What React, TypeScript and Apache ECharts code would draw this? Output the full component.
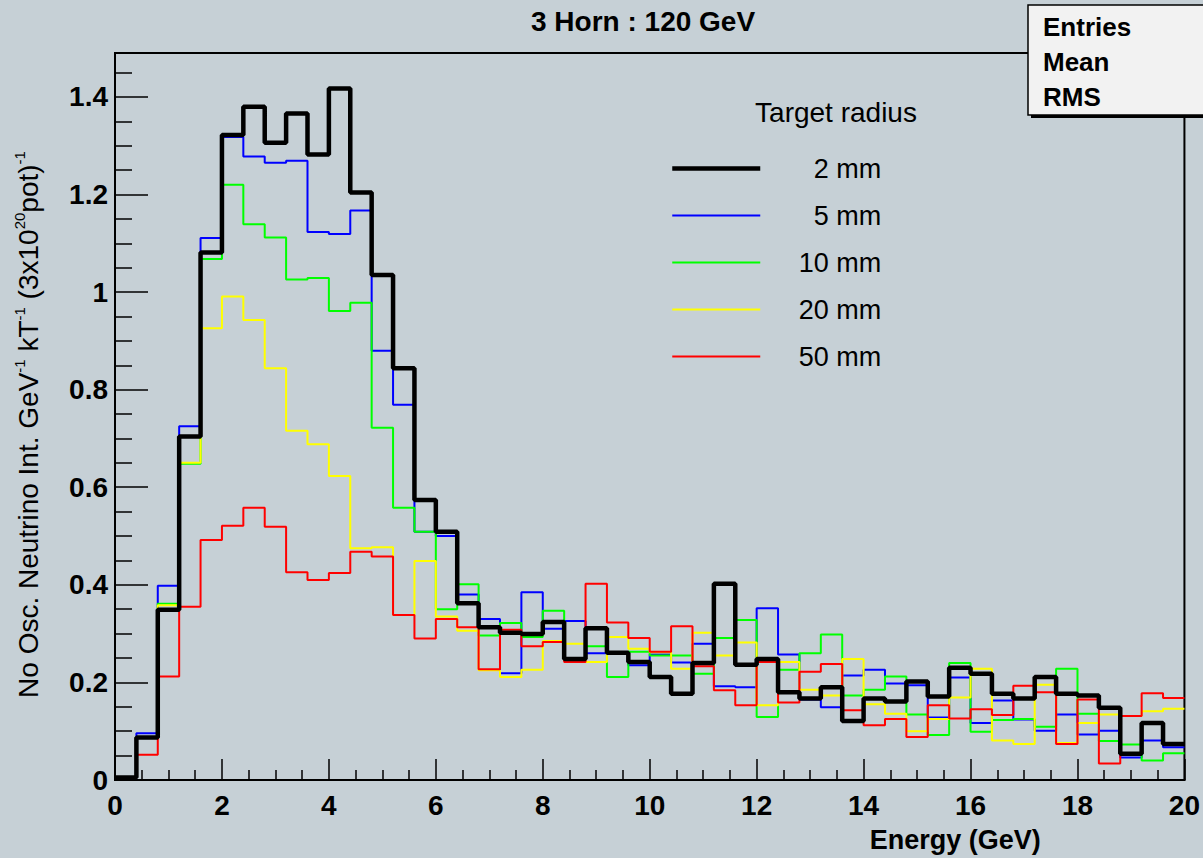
import React, { useEffect, useRef } from "react";
import * as echarts from "echarts";

// ---- Data (histogram bin contents, 0.4 GeV bins from 0 to 20 GeV) ----
const BIN_WIDTH = 0.4;
const X_MIN = 0;
const X_MAX = 20;
const Y_MAX = 1.49;

const SERIES_NAMES = ["2 mm", "5 mm", "10 mm", "20 mm", "50 mm"];
const SERIES_COLORS = ["#000000", "#0000ff", "#00ff00", "#ffff00", "#ff0000"];
const SERIES_WIDTHS = [4.5, 2, 2, 2, 2];

const radius2mm = [
  0.005, 0.087, 0.349, 0.704, 1.081, 1.322, 1.380, 1.306, 1.366, 1.282,
  1.417, 1.204, 1.035, 0.844, 0.574, 0.509, 0.362, 0.313, 0.302, 0.299,
  0.324, 0.248, 0.311, 0.261, 0.242, 0.211, 0.177, 0.240, 0.402, 0.236,
  0.248, 0.180, 0.167, 0.190, 0.121, 0.167, 0.161, 0.202, 0.171, 0.230,
  0.218, 0.177, 0.167, 0.211, 0.177, 0.173, 0.148, 0.054, 0.117, 0.074,
];
const radius5mm = [
  0.004, 0.096, 0.398, 0.725, 1.111, 1.318, 1.278, 1.265, 1.269, 1.123,
  1.119, 1.167, 0.880, 0.769, 0.509, 0.500, 0.380, 0.330, 0.219, 0.385,
  0.310, 0.326, 0.260, 0.262, 0.235, 0.257, 0.241, 0.279, 0.192, 0.190,
  0.352, 0.257, 0.165, 0.149, 0.214, 0.226, 0.198, 0.194, 0.128, 0.210,
  0.117, 0.163, 0.124, 0.101, 0.134, 0.093, 0.101, 0.046, 0.081, 0.067,
];
const radius10mm = [
  0.005, 0.088, 0.361, 0.648, 1.068, 1.220, 1.139, 1.112, 1.026, 1.029,
  0.961, 0.978, 0.722, 0.558, 0.509, 0.350, 0.401, 0.296, 0.322, 0.293,
  0.347, 0.245, 0.274, 0.211, 0.263, 0.255, 0.255, 0.218, 0.291, 0.328,
  0.129, 0.226, 0.260, 0.298, 0.173, 0.185, 0.212, 0.134, 0.092, 0.240,
  0.099, 0.123, 0.125, 0.109, 0.228, 0.136, 0.080, 0.073, 0.040, 0.055,
];
const radius20mm = [
  0.005, 0.088, 0.358, 0.650, 0.926, 0.991, 0.943, 0.844, 0.716, 0.688,
  0.623, 0.475, 0.477, 0.338, 0.449, 0.335, 0.306, 0.225, 0.211, 0.226,
  0.285, 0.279, 0.242, 0.293, 0.269, 0.262, 0.228, 0.302, 0.255, 0.282,
  0.153, 0.242, 0.185, 0.173, 0.248, 0.155, 0.136, 0.100, 0.125, 0.169,
  0.228, 0.081, 0.074, 0.195, 0.076, 0.117, 0.134, 0.131, 0.141, 0.146,
];
const radius50mm = [
  0.005, 0.052, 0.212, 0.355, 0.492, 0.521, 0.558, 0.519, 0.426, 0.410,
  0.424, 0.468, 0.458, 0.338, 0.290, 0.330, 0.313, 0.227, 0.308, 0.274,
  0.283, 0.242, 0.402, 0.323, 0.291, 0.263, 0.315, 0.233, 0.184, 0.153,
  0.242, 0.159, 0.222, 0.238, 0.143, 0.112, 0.125, 0.088, 0.153, 0.126,
  0.145, 0.133, 0.193, 0.180, 0.074, 0.165, 0.034, 0.131, 0.178, 0.168,
];
const SERIES_VALUES = [radius2mm, radius5mm, radius10mm, radius20mm, radius50mm];

const TITLE = "3 Horn : 120 GeV";
const LEGEND_TITLE = "Target radius";
const STATS_LABELS = ["Entries", "Mean", "RMS"];

const FONT = "'Liberation Sans', Arial, Helvetica, sans-serif";
const BG = "#c6d0d6";

function histPoints(values: number[]): number[][] {
  const pts = values.map((v, i) => [X_MIN + i * BIN_WIDTH, v]);
  pts.push([X_MAX, values[values.length - 1]]);
  return pts;
}

export default function App() {
  const ref = useRef<HTMLDivElement>(null);

  useEffect(() => {
    if (!ref.current) return;
    const chart = echarts.init(ref.current, null, { renderer: "svg" });

    const series = SERIES_NAMES.map((name, k) => ({
      name,
      type: "line",
      step: "end",
      data: histPoints(SERIES_VALUES[k]),
      showSymbol: false,
      symbol: "none",
      z: k === 0 ? 4 : 3,
      color: SERIES_COLORS[k],
      lineStyle: { color: SERIES_COLORS[k], width: SERIES_WIDTHS[k] },
      emphasis: { disabled: true },
    }));

    const option: any = {
      animation: false,
      backgroundColor: BG,
      title: {
        text: TITLE,
        left: 531,
        top: 7,
        padding: 0,
        textStyle: { fontFamily: FONT, fontSize: 28, fontWeight: "bold", color: "#000" },
      },
      grid: {
        left: 115,
        right: 15,
        top: 53,
        bottom: 76.5,
        show: true,
        borderColor: "#000",
        borderWidth: 2,
        backgroundColor: "transparent",
      },
      legend: {
        orient: "vertical",
        left: 670,
        top: 155,
        padding: 0,
        itemGap: 20,
        itemWidth: 88,
        itemHeight: 14,
        data: SERIES_NAMES.map((name, k) => ({
          name,
          lineStyle: { color: SERIES_COLORS[k], width: k === 0 ? 4.5 : 2 },
        })),
        itemStyle: { opacity: 0 },
        formatter: "{t|{name}}",
        textStyle: {
          rich: {
            t: { width: 116, align: "right", fontSize: 27, lineHeight: 30, fontFamily: FONT, color: "#000" },
          },
        },
      },
      xAxis: {
        type: "value",
        min: X_MIN,
        max: X_MAX,
        interval: 2,
        name: "Energy (GeV)",
        nameLocation: "middle",
        nameGap: 46,
        nameTextStyle: {
          fontFamily: FONT,
          fontSize: 27,
          fontWeight: "bold",
          color: "#000",
          padding: [0, 0, 0, 611],
        },
        axisLine: { show: true, onZero: false, lineStyle: { color: "#000", width: 2 } },
        axisTick: { show: true, inside: true, length: 21, lineStyle: { color: "#000", width: 1.5 } },
        minorTick: { show: true, splitNumber: 4, length: 10, lineStyle: { color: "#000", width: 1.5 } },
        splitLine: { show: false },
        axisLabel: { fontFamily: FONT, fontSize: 28, fontWeight: "bold", color: "#000", margin: 11 },
      },
      yAxis: {
        type: "value",
        min: 0,
        max: Y_MAX,
        interval: 0.2,
        name:
          "{n|No Osc. Neutrino Int. GeV}{s|-1}{n| kT}{s|-1}{n| (3x10}{s|20}{n|pot)}{s|-1}",
        nameLocation: "middle",
        nameGap: 73,
        nameTextStyle: {
          color: "#000",
          padding: [0, 16, 0, 0],
          rich: {
            n: { fontFamily: FONT, fontSize: 28, lineHeight: 30, verticalAlign: "bottom", color: "#000" },
            s: { fontFamily: FONT, fontSize: 15, lineHeight: 16, verticalAlign: "top", color: "#000" },
          },
        },
        axisLine: { show: true, lineStyle: { color: "#000", width: 2 } },
        axisTick: { show: true, inside: true, length: 33, lineStyle: { color: "#000", width: 1.5 } },
        minorTick: { show: true, splitNumber: 4, length: 17, lineStyle: { color: "#000", width: 1.5 } },
        splitLine: { show: false },
        axisLabel: {
          fontFamily: FONT,
          fontSize: 28,
          fontWeight: "bold",
          color: "#000",
          margin: 7,
          showMaxLabel: false,
        },
      },
      graphic: [
        {
          type: "text",
          z: 100,
          x: 836,
          y: 112,
          style: {
            text: LEGEND_TITLE,
            fontFamily: FONT,
            fontSize: 28,
            fill: "#000",
            align: "center",
            verticalAlign: "middle",
          },
        },
        {
          type: "rect",
          z: 100,
          shape: { x: 1031, y: 8, width: 200, height: 110 },
          style: { fill: "#000" },
        },
        {
          type: "rect",
          z: 101,
          shape: { x: 1028, y: 5, width: 200, height: 110 },
          style: { fill: "#f2f2f2", stroke: "#000", lineWidth: 1.5 },
        },
        ...STATS_LABELS.map((t, i) => ({
          type: "text",
          z: 102,
          x: 1043,
          y: 27 + i * 35,
          style: {
            text: t,
            fontFamily: FONT,
            fontSize: 26,
            fontWeight: "bold",
            fill: "#000",
            align: "left",
            verticalAlign: "middle",
          },
        })),
      ],
      series,
    };

    chart.setOption(option);
    return () => chart.dispose();
  }, []);

  return (
    <div
      ref={ref}
      style={{ position: "absolute", left: 0, top: 0, width: 1203, height: 858, background: BG }}
    />
  );
}
